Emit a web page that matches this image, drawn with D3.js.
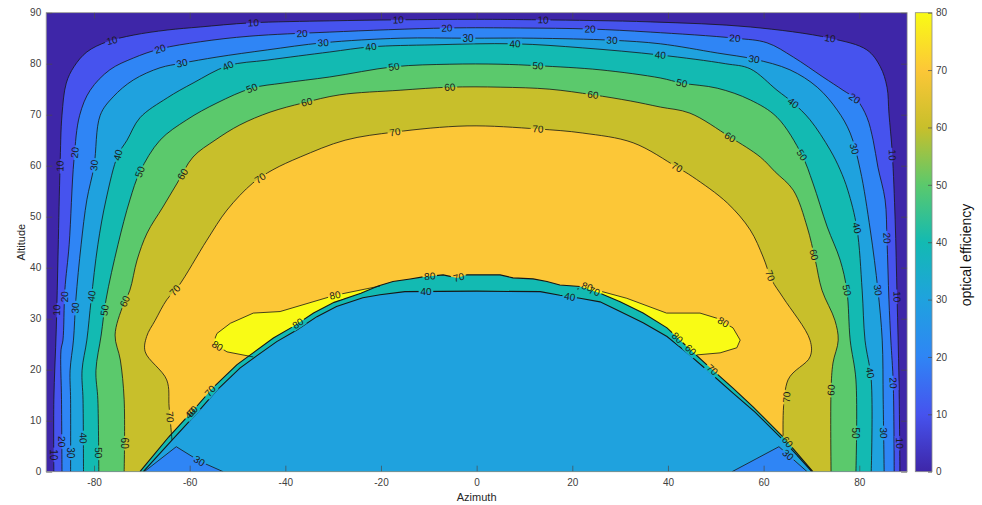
<!DOCTYPE html>
<html>
<head>
<meta charset="utf-8">
<script src="https://cdn.jsdelivr.net/npm/d3@7"></script>
<style>
body { margin: 0; background: #fff; }
text { font-family: "Liberation Sans", Arial, sans-serif; }
</style>
</head>
<body>
<svg id="chart" width="982" height="505"></svg>
<script>
// ticks
const xTicks = [-80, -60, -40, -20, 0, 20, 40, 60, 80];
const yTicks = [0, 10, 20, 30, 40, 50, 60, 70, 80, 90];
const cbTicks = [0, 10, 20, 30, 40, 50, 60, 70, 80];
const levels = [10, 20, 30, 40, 50, 60, 70];

// contour lines, [azimuth, altitude]
const contour10 = [[-88.4,0],[-88.4,14.1],[-87.9,27.8],[-87.5,43.5],[-87.1,59.9],[-86.7,69.9],[-85.8,76.2],[-84.2,79.4],[-81.5,82.3],[-77.3,84.3],[-71.8,85.6],[-64.7,86.6],[-57.8,87.2],[-47.4,88.0],[-30.7,88.4],[-16.4,88.6],[0,88.7],[13.3,88.6],[36.3,88.2],[57.2,87.2],[73.9,85.0],[81.6,82.7],[84.4,79.4],[85.8,75.4],[86.2,70.3],[86.9,62.5],[87.5,49.4],[87.9,34.3],[88.3,18.0],[88.5,0]];
const contour20 = [[-86.7,0],[-86.8,14.1],[-86.9,23.9],[-86.5,25.8],[-86.1,35.6],[-85.2,44.5],[-84.2,61.1],[-83.0,69.9],[-80.8,74.8],[-76.7,78.8],[-71.8,81.1],[-66.2,82.9],[-57.8,84.3],[-47.4,85.4],[-30.7,86.2],[-6.2,87.0],[9.1,87.0],[23.7,86.8],[36.3,86.2],[54.0,85.0],[60.7,84.1],[66.2,81.3],[72.4,77.4],[76.6,74.8],[79.5,72.9],[81.6,69.5],[82.9,65.0],[83.9,59.7],[85.4,53.3],[85.8,45.4],[86.2,33.7],[86.6,25.8],[87.1,17.4],[87.3,0]];
const contour30 = [[-84.9,0],[-84.9,14.1],[-85.0,19.9],[-84.3,25.8],[-83.8,33.7],[-82.7,44.5],[-81.5,53.3],[-80.0,59.9],[-78.7,69.9],[-76.0,73.5],[-71.8,76.8],[-66.2,79.2],[-61.6,80.1],[-54.3,81.3],[-43.8,82.7],[-32.1,84.1],[-16.0,85.0],[-1.8,85.0],[11.8,85.0],[28.3,84.6],[38.4,83.9],[50.3,82.1],[58.0,80.9],[65.5,78.8],[71.2,75.4],[75.4,70.9],[78.1,66.4],[80.2,59.2],[82.3,47.4],[83.9,35.6],[84.8,25.8],[85.0,14.1],[85.2,0]];
const contour40 = [[-82.2,0],[-82.3,14.1],[-82.5,19.9],[-81.5,25.8],[-80.6,33.7],[-79.2,44.5],[-77.5,53.3],[-75.0,62.1],[-73.1,65.0],[-70.4,69.4],[-64.7,73.3],[-59.3,76.2],[-52.0,79.6],[-43.8,80.7],[-30.7,82.3],[-22.1,83.3],[-9.1,83.7],[8.0,83.9],[22.2,83.1],[38.4,81.7],[52.0,80.0],[57.2,79.0],[62.8,74.8],[66.2,72.3],[69.7,69.0],[73.9,63.1],[76.0,59.2],[77.6,55.2],[79.5,47.8],[80.6,35.6],[81.2,25.8],[82.5,18.0],[82.5,0]];
const contour50 = [[-79.0,0],[-79.2,14.1],[-79.6,19.9],[-78.5,26.8],[-77.5,33.7],[-75.0,44.5],[-72.5,53.3],[-70.4,58.8],[-66.2,65.0],[-60.6,69.0],[-54.3,72.3],[-47.0,75.2],[-40.5,76.2],[-30.7,77.4],[-17.3,79.4],[-5.6,79.9],[4.9,79.9],[12.8,79.6],[25.8,78.8],[38.4,77.2],[42.9,76.2],[50.3,75.2],[57.2,72.9],[62.8,69.5],[68.0,62.1],[70.3,56.6],[73.3,48.0],[76.0,41.5],[77.4,35.6],[78.1,25.8],[79.3,18.0],[79.3,0]];
const contour60 = [[-73.7,0],[-73.7,14.1],[-74.5,21.9],[-75.6,26.8],[-73.9,32.7],[-72.5,35.6],[-71.0,41.5],[-68.9,46.8],[-65.6,51.9],[-62.6,56.6],[-59.3,61.7],[-54.7,65.0],[-49.5,68.0],[-43.2,70.5],[-36.3,72.3],[-28.6,73.9],[-16.0,74.8],[-5.6,75.4],[4.9,75.4],[15.3,75.0],[24.3,73.9],[32.1,72.7],[38.4,71.5],[44.6,70.3],[53.0,65.6],[59.3,61.7],[62.4,58.8],[66.2,55.2],[69.1,48.0],[70.8,41.5],[72.2,35.6],[74.9,29.7],[75.6,25.8],[74.5,21.3],[74.1,16.0],[74.1,0]];
const contour70 = [[-63.7,6.2],[-64.3,12.7],[-64.8,18.0],[-69.3,23.5],[-69.0,26.5],[-67.2,29.7],[-64.8,33.7],[-62.4,36.3],[-56.4,45.4],[-52.2,51.3],[-46.8,56.6],[-42.6,59.2],[-36.9,61.7],[-27.5,65.0],[-17.1,66.6],[-2.0,67.8],[12.8,67.2],[22.2,66.4],[32.7,64.5],[41.9,59.7],[45.2,57.8],[52.4,52.7],[57.2,47.4],[59.9,42.1],[61.7,37.6],[64.1,34.1],[69.7,25.8],[69.7,22.5],[65.1,18.0],[64.1,6.2]];

// edge of the low region (30-40) and outer edge of the packed lines round it
const blobEdge = [[-69.7,0],[-63.7,6.2],[-58.5,11.5],[-54.3,16.0],[-49.5,20.3],[-46.0,22.7],[-41.8,25.5],[-37.6,27.8],[-33.4,30.4],[-29.3,32.4],[-23.8,34.1],[-20.2,34.7],[-15.0,35.3],[0,35.4],[13.3,35.3],[17.4,34.6],[21.6,34.0],[25.8,33.3],[30.0,31.4],[34.8,29.2],[39.8,26.5],[44.0,23.3],[48.2,19.9],[53.6,15.4],[58.2,11.7],[64.1,6.2],[70.1,0]];
const rimEdge = [[-70.4,0],[-64.4,6.8],[-59.2,12.1],[-55.0,16.6],[-50.1,21.0],[-46.6,23.4],[-42.5,26.2],[-38.3,28.5],[-34.1,31.1],[-29.8,33.2],[-24.2,35.0],[-20.6,36.4],[-17.5,37.3],[-13.9,37.8],[-11.2,38.2],[-7.0,38.6],[-4.1,38.0],[-2.0,38.6],[4.9,38.6],[7.6,38.0],[11.8,37.8],[14.7,37.3],[17.4,36.6],[21.6,36.3],[25.8,35.0],[30.0,33.3],[34.8,31.1],[39.8,28.2],[44.0,24.5],[48.2,20.9],[53.6,16.4],[57.8,12.7],[64.1,6.8],[70.3,0]];

// 80 contour (islands) and 30 contour pockets at the bottom
const island80Left = [[-20.2,36.4],[-29.6,34.6],[-41.1,31.4],[-46.7,31.1],[-51.5,29.1],[-54.3,27.1],[-55.1,25.2],[-52.2,23.5],[-46.7,22.5]];
const island80Right = [[21.0,35.8],[23.0,36.3],[25.1,35.6],[31.4,34.0],[39.7,31.1],[46.7,31.1],[50.2,30.1],[53.6,28.2],[55.1,25.8],[54.4,24.3],[50.9,23.3],[46.0,22.9]];
const pocketLeft = [[-69.5,0],[-62.8,4.9],[-57.8,2.0],[-53.0,0]];
const pocketRight = [[53.4,0],[58.6,2.6],[63.2,4.9],[69.1,0]];

// contour labels: text, azimuth, altitude, line
const contourLabels = [
  ['10',-76.2,84.4,'c10'],['10',-46.7,88.0,'c10'],['10',-16.4,88.6,'c10'],['10',13.9,88.6,'c10'],['10',73.9,85.0,'c10'],['10',87.1,62.1,'c10'],['10',88.1,34.3,'c10'],['10',88.1,5.6,'c10'],['10',-87.1,59.9,'c10'],['10',-88.5,31.7,'c10'],['10',-88.7,3.3,'c10'],
  ['20',-66.2,82.9,'c20'],['20',-36.5,86.1,'c20'],['20',-6.2,87.0,'c20'],['20',23.7,86.8,'c20'],['20',54.0,85.0,'c20'],['20',79.1,73.3,'c20'],['20',85.8,45.8,'c20'],['20',87.1,17.4,'c20'],['20',-83.5,62.5,'c20'],['20',-86.4,34.3,'c20'],['20',-86.9,5.9,'c20'],
  ['30',-80.2,60.1,'c30'],['30',-61.6,80.1,'c30'],['30',-32.1,84.3,'c30'],['30',-1.8,85.0,'c30'],['30',28.3,84.6,'c30'],['30',58.0,80.9,'c30'],['30',78.1,63.1,'c30'],['30',83.9,35.6,'c30'],['30',85.0,7.6,'c30'],['30',-84.3,32.1,'c30'],['30',-85.0,3.7,'c30'],
  ['40',-75.0,62.1,'c40'],['40',-52.0,79.6,'c40'],['40',-22.1,83.3,'c40'],['40',8.0,83.9,'c40'],['40',38.4,81.7,'c40'],['40',66.2,72.3,'c40'],['40',79.5,47.8,'c40'],['40',82.9,19.5,'c40'],['40',-81.8,34.6,'c40'],['40',-82.6,6.6,'c40'],
  ['50',-70.4,58.8,'c50'],['50',-47.0,75.2,'c50'],['50',-17.3,79.4,'c50'],['50',12.8,79.6,'c50'],['50',42.9,76.2,'c50'],['50',68.0,62.1,'c50'],['50',77.4,35.6,'c50'],['50',79.3,7.6,'c50'],['50',-78.0,31.7,'c50'],['50',-79.2,3.7,'c50'],
  ['60',-61.9,58.6,'c60'],['60',-35.5,72.3,'c60'],['60',-5.6,75.4,'c60'],['60',24.3,73.9,'c60'],['60',53.0,65.6,'c60'],['60',72.1,42.9,'c60'],['60',74.1,16.0,'c60'],['60',-72.6,33.0,'c60'],['60',-74.2,5.6,'c60'],
  ['70',-45.3,57.6,'c70'],['70',-17.1,66.6,'c70'],['70',12.8,67.2,'c70'],['70',41.9,59.7,'c70'],['70',61.8,38.6,'c70'],['70',64.7,14.6,'c70'],['70',-62.4,35.0,'c70'],['70',-64.5,10.7,'c70'],
  ['40',-10.6,35.4,'blob'],['40',19.5,34.6,'blob'],
  ['70',-3.9,38.6,'rim'],['70',24.4,34.7,'rim'],['70',49.2,19.9,'rim'],['70',-54.7,15.0,'rim'],['80',41.5,25.8,'rim'],['60',44.2,23.3,'rim'],['40',-59.9,11.5,'rim'],['60',-59.6,11.9,'rim'],['80',-36.9,28.4,'rim'],['80',-9.7,37.4,'rim'],['60',63.7,4.8,'rim'],
  ['80',-29.6,34.6,'il'],['80',-54.3,24.5,'il'],['80',23.1,36.2,'ir'],['80',51.5,29.2,'ir'],
  ['30',-58.2,1.8,'pl'],['30',65.1,3.3,'pr']
];

// parula colours for bands 0,10,...,80
const bandColors = ['#3e26a8','#4653ee','#2f85f5','#1fa2de','#13bab2','#5bc96c','#c8bf2b','#fcc737','#f9fb15'];

const W = 982, H = 505;
const plot = { left: 46.2, right: 907.1, top: 12.7, bottom: 471.7 };
const cbar = { left: 915.3, right: 932 };

const x = d3.scaleLinear().domain([-90, 90]).range([plot.left, plot.right]);
const y = d3.scaleLinear().domain([0, 90]).range([plot.bottom, plot.top]);
const cbY = d3.scaleLinear().domain([0, 80]).range([plot.bottom, plot.top]);

const lines = { c10: contour10, c20: contour20, c30: contour30, c40: contour40, c50: contour50, c60: contour60, c70: contour70,
                blob: blobEdge, rim: rimEdge, il: island80Left, ir: island80Right, pl: pocketLeft, pr: pocketRight };

const smooth = d3.line().x(d => x(d[0])).y(d => y(d[1])).curve(d3.curveCatmullRom.alpha(0.5));
const straight = d3.line().x(d => x(d[0])).y(d => y(d[1]));

const svg = d3.select('#chart');
const defs = svg.append('defs');

defs.append('clipPath').attr('id', 'plotClip')
  .append('rect')
  .attr('x', plot.left).attr('y', plot.top)
  .attr('width', plot.right - plot.left).attr('height', plot.bottom - plot.top);

// island fill = 80 line closed back along the edge of the low region
function islandFill(pts) {
  const a = pts[pts.length - 1][0], b = pts[0][0];
  let back = blobEdge.filter(p => p[0] > Math.min(a, b) && p[0] < Math.max(a, b));
  if (a > b) back = back.slice().reverse();
  return pts.concat(back);
}

const fills = svg.append('g').attr('clip-path', 'url(#plotClip)');
fills.append('rect')
  .attr('x', plot.left).attr('y', plot.top)
  .attr('width', plot.right - plot.left).attr('height', plot.bottom - plot.top)
  .attr('fill', bandColors[0]);

levels.forEach((lv, i) => {
  fills.append('path').attr('d', smooth(lines['c' + lv]) + 'Z').attr('fill', bandColors[i + 1]);
});
[island80Left, island80Right].forEach(pts => {
  fills.append('path').attr('d', straight(islandFill(pts)) + 'Z').attr('fill', bandColors[8]);
});
fills.append('path').attr('d', straight(rimEdge) + 'Z').attr('fill', bandColors[4]);
fills.append('path').attr('d', straight(blobEdge) + 'Z').attr('fill', bandColors[3]);
[pocketLeft, pocketRight].forEach(pts => {
  fills.append('path').attr('d', straight(pts) + 'Z').attr('fill', bandColors[2]);
});

// label positions on their lines
function nearestOn(pts, px, py) {
  let best = null;
  for (let i = 0; i < pts.length - 1; i++) {
    const ax = x(pts[i][0]), ay = y(pts[i][1]);
    const bx = x(pts[i + 1][0]), by = y(pts[i + 1][1]);
    const dx = bx - ax, dy = by - ay, len2 = dx * dx + dy * dy || 1;
    let t = ((px - ax) * dx + (py - ay) * dy) / len2;
    t = Math.max(0, Math.min(1, t));
    const qx = ax + t * dx, qy = ay + t * dy;
    const d = (qx - px) * (qx - px) + (qy - py) * (qy - py);
    if (!best || d < best.d) best = { d: d, x: qx, y: qy, a: Math.atan2(dy, dx) * 180 / Math.PI };
  }
  if (best.a > 90) best.a -= 180;
  if (best.a <= -90) best.a += 180;
  return best;
}

const placed = contourLabels.map(l => {
  const p = nearestOn(lines[l[3]], x(l[1]), y(l[2]));
  return { text: l[0], x: p.x, y: p.y, a: p.a, w: l[0].length * 5.8 + 3 };
});

const mask = defs.append('mask').attr('id', 'gaps')
  .attr('maskUnits', 'userSpaceOnUse')
  .attr('x', 0).attr('y', 0).attr('width', W).attr('height', H);
mask.append('rect').attr('width', W).attr('height', H).attr('fill', '#fff');
placed.forEach(p => {
  mask.append('rect')
    .attr('x', -p.w / 2).attr('y', -5).attr('width', p.w).attr('height', 10)
    .attr('transform', `translate(${p.x},${p.y}) rotate(${p.a})`)
    .attr('fill', '#000');
});

const strokes = svg.append('g').attr('clip-path', 'url(#plotClip)')
  .append('g').attr('mask', 'url(#gaps)')
  .attr('fill', 'none').attr('stroke', '#161616');

levels.forEach(lv => {
  strokes.append('path').attr('d', smooth(lines['c' + lv])).attr('stroke-width', 0.8);
});
[island80Left, island80Right].forEach(pts => {
  strokes.append('path').attr('d', straight(pts)).attr('stroke-width', 0.8);
});
strokes.append('path').attr('d', straight(rimEdge)).attr('stroke-width', 1.1);
strokes.append('path').attr('d', straight(blobEdge)).attr('stroke-width', 1.1);
[pocketLeft, pocketRight].forEach(pts => {
  strokes.append('path').attr('d', straight(pts)).attr('stroke-width', 0.8);
});

svg.append('g')
  .selectAll('text')
  .data(placed)
  .join('text')
  .attr('transform', d => `translate(${d.x},${d.y}) rotate(${d.a})`)
  .attr('text-anchor', 'middle')
  .attr('dy', '0.35em')
  .attr('font-size', 10)
  .attr('fill', '#1a1a1a')
  .text(d => d.text);

// axes, ticks inside
function styleAxis(g) {
  g.select('.domain').remove();
  g.selectAll('.tick line').attr('stroke', '#4a4a4a').attr('stroke-width', 0.7);
  g.selectAll('.tick text').attr('fill', '#404040').attr('font-size', 10)
    .attr('font-family', '"Liberation Sans", Arial, sans-serif');
}

svg.append('g').attr('transform', `translate(0,${plot.bottom})`)
  .call(d3.axisBottom(x).tickValues(xTicks).tickSize(-6).tickPadding(7).tickFormat(d => String(d)))
  .call(styleAxis);
svg.append('g').attr('transform', `translate(0,${plot.top})`)
  .call(d3.axisTop(x).tickValues(xTicks).tickSize(-6).tickFormat(''))
  .call(styleAxis);
svg.append('g').attr('transform', `translate(${plot.left},0)`)
  .call(d3.axisLeft(y).tickValues(yTicks).tickSize(-6).tickPadding(5).tickFormat(d => String(d)))
  .call(styleAxis);
svg.append('g').attr('transform', `translate(${plot.right},0)`)
  .call(d3.axisRight(y).tickValues(yTicks).tickSize(-6).tickFormat(''))
  .call(styleAxis);

svg.append('rect')
  .attr('x', plot.left).attr('y', plot.top)
  .attr('width', plot.right - plot.left).attr('height', plot.bottom - plot.top)
  .attr('fill', 'none').attr('stroke', '#8a8a8a').attr('stroke-width', 0.8);

svg.append('text')
  .attr('x', (plot.left + plot.right) / 2).attr('y', 501)
  .attr('text-anchor', 'middle').attr('font-size', 11).attr('fill', '#262626')
  .text('Azimuth');
svg.append('text')
  .attr('transform', `translate(25,${(plot.top + plot.bottom) / 2}) rotate(-90)`)
  .attr('text-anchor', 'middle').attr('font-size', 11).attr('fill', '#262626')
  .text('Altitude');

// colorbar
const grad = defs.append('linearGradient').attr('id', 'parula')
  .attr('x1', 0).attr('y1', 1).attr('x2', 0).attr('y2', 0);
bandColors.forEach((c, i) => {
  grad.append('stop').attr('offset', i / (bandColors.length - 1)).attr('stop-color', c);
});
svg.append('rect')
  .attr('x', cbar.left).attr('y', plot.top)
  .attr('width', cbar.right - cbar.left).attr('height', plot.bottom - plot.top)
  .attr('fill', 'url(#parula)').attr('stroke', '#8a8a8a').attr('stroke-width', 0.8);
svg.append('g').attr('transform', `translate(${cbar.right},0)`)
  .call(d3.axisRight(cbY).tickValues(cbTicks).tickSize(-4).tickPadding(4).tickFormat(d => String(d)))
  .call(styleAxis);
svg.append('text')
  .attr('transform', 'translate(971,255) rotate(-90)')
  .attr('text-anchor', 'middle').attr('font-size', 14).attr('fill', '#111')
  .text('optical efficiency');
</script>
</body>
</html>
